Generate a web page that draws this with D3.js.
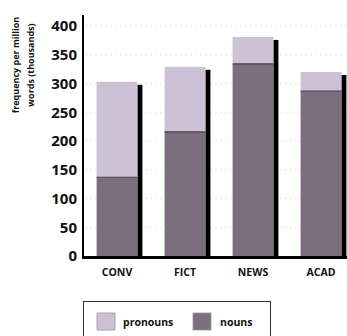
<!DOCTYPE html>
<html>
<head>
<meta charset="utf-8">
<script src="https://cdn.jsdelivr.net/npm/d3@7"></script>
<style>
  html, body { margin: 0; padding: 0; background: #fff; }
  svg { display: block; }
  text { font-family: "Open Sans", "Liberation Sans", sans-serif; font-weight: bold; fill: #111; }
</style>
</head>
<body>
<svg id="chart" width="347" height="336"></svg>
<script>
const categories = ["CONV", "FICT", "NEWS", "ACAD"];
const nouns = [137, 216, 334, 287];
const pronouns = [166, 113, 47, 33];
const yTicks = [0, 50, 100, 150, 200, 250, 300, 350, 400];
const seriesNames = ["pronouns", "nouns"];
const colors = { pronouns: "#cdc1d5", nouns: "#7c6e7f" };

const svg = d3.select("#chart");
const x = d3.scaleBand().domain(categories).range([83, 355]).paddingInner(0.4).paddingOuter(0.2);
const y = d3.scaleLinear().domain([0, 400]).range([256, 26]);

// faint dotted gridlines
svg.append("g").selectAll("line").data(yTicks.filter(d => d > 0)).join("line")
  .attr("x1", 85).attr("x2", 347)
  .attr("y1", d => y(d)).attr("y2", d => y(d))
  .attr("stroke", "#e9e1ea").attr("stroke-width", 1).attr("stroke-dasharray", "2,3");

const data = categories.map((c, i) => ({ c, nouns: nouns[i], pronouns: pronouns[i], total: nouns[i] + pronouns[i] }));

// shadows
svg.append("g").selectAll("rect").data(data).join("rect")
  .attr("x", d => x(d.c) + x.bandwidth())
  .attr("y", d => y(d.total) + 3)
  .attr("width", 5)
  .attr("height", d => y(0) - y(d.total) - 3)
  .attr("fill", "#000");

// nouns
svg.append("g").selectAll("rect").data(data).join("rect")
  .attr("x", d => x(d.c)).attr("width", x.bandwidth())
  .attr("y", d => y(d.nouns)).attr("height", d => y(0) - y(d.nouns))
  .attr("fill", colors.nouns);

// pronouns
svg.append("g").selectAll("rect").data(data).join("rect")
  .attr("x", d => x(d.c)).attr("width", x.bandwidth())
  .attr("y", d => y(d.total)).attr("height", d => y(d.nouns) - y(d.total))
  .attr("fill", colors.pronouns);

// boundary lines
svg.append("g").selectAll("line").data(data).join("line")
  .attr("x1", d => x(d.c)).attr("x2", d => x(d.c) + x.bandwidth())
  .attr("y1", d => y(d.nouns)).attr("y2", d => y(d.nouns))
  .attr("stroke", "#4a3a4c").attr("stroke-width", 1.2);

// y axis
const yAxis = d3.axisLeft(y).tickValues(yTicks).tickSize(0).tickPadding(6);
const gy = svg.append("g").attr("transform", "translate(83,0)").call(yAxis);
gy.select(".domain").remove();
gy.selectAll("text").attr("font-size", 15).attr("font-family", "'Open Sans', sans-serif").attr("font-weight", "bold").attr("fill", "#111");
svg.append("line").attr("x1", 83).attr("x2", 83).attr("y1", 15).attr("y2", 258)
  .attr("stroke", "#000").attr("stroke-width", 2);

// x axis
const xAxis = d3.axisBottom(x).tickSize(0).tickPadding(12);
const gx = svg.append("g").attr("transform", "translate(0,257)").call(xAxis);
gx.select(".domain").remove();
gx.selectAll("text").attr("font-size", 10.5).attr("font-family", "'Open Sans', sans-serif").attr("font-weight", "bold").attr("fill", "#111");
svg.append("line").attr("x1", 82).attr("x2", 347).attr("y1", 257.5).attr("y2", 257.5)
  .attr("stroke", "#000").attr("stroke-width", 3);

// y title
const title = svg.append("text").attr("transform", "translate(0,65) rotate(-90)")
  .attr("text-anchor", "middle").attr("font-size", 9);
title.append("tspan").attr("x", 0).attr("y", 19).text("frequency per million");
title.append("tspan").attr("x", 0).attr("y", 34).text("words (thousands)");

// legend
const lg = svg.append("g");
lg.append("rect").attr("x", 83.5).attr("y", 301.5).attr("width", 187).attr("height", 45)
  .attr("fill", "none").attr("stroke", "#333").attr("stroke-width", 1);
const items = lg.selectAll("g.item").data(seriesNames).join("g")
  .attr("transform", (d, i) => `translate(${i === 0 ? 97 : 193},313)`);
items.append("rect").attr("width", 18).attr("height", 17)
  .attr("fill", d => colors[d]).attr("stroke", "#999").attr("stroke-width", 0.8);
items.append("text").attr("x", d => d === "pronouns" ? 26 : 27).attr("y", 12.5)
  .attr("font-size", 10.5).text(d => d);
</script>
</body>
</html>
